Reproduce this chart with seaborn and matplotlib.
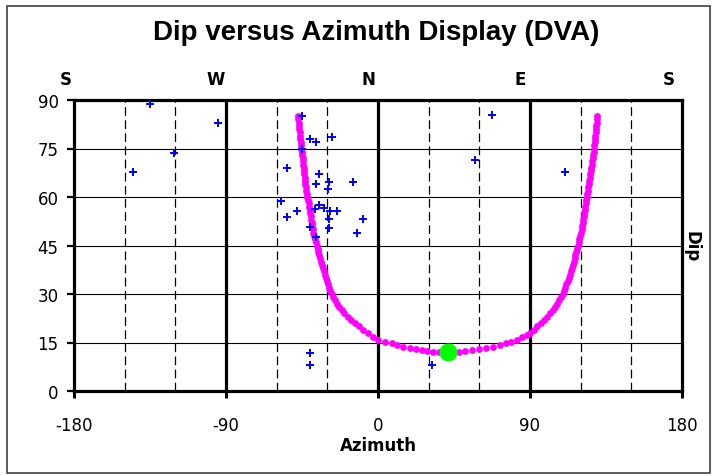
import matplotlib
matplotlib.use("Agg")
import matplotlib.pyplot as plt
from matplotlib.patches import Rectangle
import seaborn as sns
import pandas as pd

# Bedding picks (azimuth, dip)
pick_azimuth = [-145.2, -135.0, -120.8, -94.9,
                -44.8, -40.3, -36.7, -27.4, -44.8, -54.1, -34.9, -36.7, -29.0,
                -29.8, -15.0, -57.6, -34.9, -37.3, -48.1, -31.8, -28.4, -24.5,
                -54.1, -29.0, -9.1, -40.3, -29.0, -12.6, -36.7,
                -40.3, -40.3, 31.8,
                67.3, 57.4, 110.7]
pick_dip = [67.6, 88.8, 73.5, 82.9,
            85.0, 77.9, 77.1, 78.5, 74.9, 68.9, 67.1, 64.0, 64.5,
            62.5, 64.5, 58.9, 57.5, 56.3, 55.8, 56.5, 55.8, 55.8,
            53.7, 53.2, 53.2, 50.8, 50.4, 48.9, 47.7,
            11.7, 8.1, 8.1,
            85.4, 71.5, 67.6]

# DVA curve, left limb (dip 85 -> 20)
left_azimuth = [-47.4, -47.2, -47.0, -46.8, -46.6, -46.4, -46.2, -46.0, -45.8, -45.6,
                -45.3, -45.1, -44.9, -44.7, -44.5, -44.3, -44.1, -43.9, -43.6, -43.4,
                -43.2, -43.0, -42.8, -42.5, -42.2, -41.9, -41.4, -41.1, -40.8, -40.5,
                -40.2, -39.9, -39.6, -39.3, -39.0, -38.6, -38.2, -37.8, -37.3, -36.8,
                -36.3, -35.8, -35.3, -34.8, -34.3, -33.7, -33.1, -32.5, -31.9, -31.3,
                -30.7, -30.1, -29.4, -28.8, -28.2, -27.4, -26.5, -25.5, -24.3, -23.0,
                -21.6, -19.9, -17.9, -15.8, -13.6, -11.3]
left_dip = [85, 84, 83, 82, 81, 80, 79, 78, 77, 76,
            75, 74, 73, 72, 71, 70, 69, 68, 67, 66,
            65, 64, 63, 62, 61, 60, 59, 58, 57, 56,
            55, 54, 53, 52, 51, 50, 49, 48, 47, 46,
            45, 44, 43, 42, 41, 40, 39, 38, 37, 36,
            35, 34, 33, 32, 31, 30, 29, 28, 27, 26,
            25, 24, 23, 22, 21, 20]

# DVA curve, trough
trough_azimuth = [-8.6, -5.7, -2.7, 0.2, 4.1, 8.1, 11.4, 15.0, 18.7, 22.3,
                  25.8, 29.3, 32.8, 36.3, 39.0, 44.5, 48.0, 51.5, 55.5, 59.8,
                  64.2, 68.3, 72.2, 75.6, 78.8, 82.1, 85.5, 88.4]
trough_dip = [19.0, 17.8, 16.7, 15.8, 15.2, 14.7, 14.2, 13.6, 13.2, 12.9,
              12.6, 12.4, 12.2, 12.1, 12.0, 12.0, 12.2, 12.4, 12.6, 12.9,
              13.3, 13.7, 14.2, 14.7, 15.3, 15.9, 16.6, 17.3]

# DVA curve, right limb (dip 18 -> 85)
right_azimuth = [90.2, 92.3, 94.4, 96.5, 98.5, 100.3, 102.0, 103.5, 104.9, 106.2,
                 107.4, 108.4, 109.3, 110.1, 110.9, 111.6, 112.3, 112.9, 113.5, 114.1,
                 114.7, 115.3, 115.9, 116.4, 116.9, 117.4, 117.9, 118.4, 118.9, 119.3,
                 119.7, 120.1, 120.5, 120.9, 121.3, 121.6, 121.9, 122.2, 122.5, 122.8,
                 123.1, 123.4, 123.7, 124.0, 124.3, 124.6, 124.9, 125.2, 125.5, 125.8,
                 126.1, 126.4, 126.7, 126.9, 127.2, 127.4, 127.7, 127.9, 128.1, 128.3,
                 128.5, 128.7, 128.9, 129.1, 129.3, 129.5, 129.7, 129.9]
right_dip = [18, 19, 20, 21, 22, 23, 24, 25, 26, 27,
             28, 29, 30, 31, 32, 33, 34, 35, 36, 37,
             38, 39, 40, 41, 42, 43, 44, 45, 46, 47,
             48, 49, 50, 51, 52, 53, 54, 55, 56, 57,
             58, 59, 60, 61, 62, 63, 64, 65, 66, 67,
             68, 69, 70, 71, 72, 73, 74, 75, 76, 77,
             78, 79, 80, 81, 82, 83, 84, 85]

# Fitted plane (dip direction, dip)
plane_azimuth = [41.6]
plane_dip = [12.0]

x_ticks = [-180, -90, 0, 90, 180]
y_ticks = [0, 15, 30, 45, 60, 75, 90]
major_azimuth = [-90, 0, 90]
dashed_azimuth = [-150, -120, -60, -30, 30, 60, 120, 150]
compass_labels = ["S", "W", "N", "E", "S"]
compass_px = [66, 216, 368, 520, 669]

curve = pd.DataFrame({
    "azimuth": left_azimuth + trough_azimuth + right_azimuth,
    "dip": left_dip + trough_dip + right_dip,
})
picks = pd.DataFrame({"azimuth": pick_azimuth, "dip": pick_dip})
plane = pd.DataFrame({"azimuth": plane_azimuth, "dip": plane_dip})

sns.set_theme(style="white")
plt.rcParams["font.family"] = ["DejaVu Sans"]
plt.rcParams["axes.unicode_minus"] = False

W, H = 717, 477
fig = plt.figure(figsize=(W / 100, H / 100), dpi=100)
fig.patch.set_facecolor("white")
ax = fig.add_axes([74 / W, 1 - 392 / H, 608 / W, 291 / H])

# grid: thin horizontals, dashed 30-degree verticals, heavy cardinal lines
for d in y_ticks[1:-1]:
    ax.axhline(d, color="black", lw=0.8, zorder=1)
for a in dashed_azimuth:
    ax.axvline(a, color="black", lw=0.9, ls=(0, (7, 3.5)), zorder=1)
for a in major_azimuth:
    ax.axvline(a, color="black", lw=2.3, zorder=1.5)

sns.scatterplot(data=curve, x="azimuth", y="dip", ax=ax, color="#FF00FF",
                s=24, linewidth=0, zorder=3, legend=False)
sns.scatterplot(data=picks, x="azimuth", y="dip", ax=ax, marker="+",
                color="#0000FF", s=36, linewidth=1.4, zorder=4, legend=False)
sns.scatterplot(data=plane, x="azimuth", y="dip", ax=ax, color="#00FF00",
                s=170, linewidth=0, zorder=5, legend=False)

ax.set_xlim(-180, 180)
ax.set_ylim(0, 90)
ax.set_xticks(x_ticks)
ax.set_yticks(y_ticks)
ax.tick_params(axis="x", bottom=True, direction="out", length=5, width=2.2,
               pad=13, labelsize=12, colors="black")
ax.tick_params(axis="y", left=True, direction="out", length=5, width=1.6,
               pad=6, labelsize=12, colors="black")
for sp in ax.spines.values():
    sp.set_visible(True)
    sp.set_color("black")
    sp.set_linewidth(2.3)

ax.set_xlabel("Azimuth", fontsize=12, fontweight="bold", color="black",
              va="center")
ax.xaxis.set_label_coords(0.5, (392 - 446) / 291)
ax.set_ylabel("Dip", fontsize=12, fontweight="bold", color="black",
              rotation=270, va="center", ha="center")
ax.yaxis.set_label_position("right")
ax.yaxis.set_label_coords((700 - 74) / 608, 0.5)

# compass directions above the plot
for lab, px in zip(compass_labels, compass_px):
    fig.text(px / W, 1 - 80 / H, lab, ha="center", va="center",
             fontsize=12, fontweight="bold", color="black")

fig.text(376 / W, 1 - 33 / H, "Dip versus Azimuth Display (DVA)",
         ha="center", va="center", fontsize=20, fontweight="bold",
         family=["Liberation Sans", "DejaVu Sans"], color="black")

# chart border
fig.patches.append(Rectangle((7 / W, 1 - 474 / H), 703 / W, 467 / H,
                             transform=fig.transFigure, fill=False,
                             edgecolor="#404040", lw=1.2))

fig.savefig("out.png", dpi=100)
